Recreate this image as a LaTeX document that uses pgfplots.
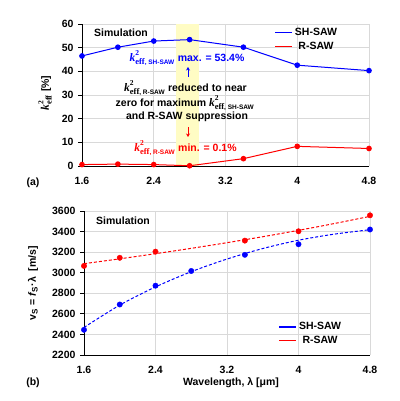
\documentclass[border=0pt]{standalone}
\usepackage{pgfplots}
\pgfplotsset{compat=1.18}
\usetikzlibrary{arrows.meta}
\usepackage{fontspec}
\setmainfont{Liberation Sans}
\newfontfamily\serifk{Liberation Serif}

\definecolor{myblue}{RGB}{0,0,255}
\definecolor{myred}{RGB}{255,0,0}
\definecolor{band}{RGB}{255,252,196}
\definecolor{gridc}{RGB}{217,217,217}

\newcommand{\keff}[1]{$\hbox{\serifk\bfseries\itshape\fontsize{11.5}{12}\selectfont k}^{\hbox{\serifk\bfseries\fontsize{7.5}{8}\selectfont 2}}_{\hbox{\serifk\bfseries\fontsize{8.5}{9}\selectfont eff\rmfamily\fontsize{6.5}{7}\selectfont, #1}}$}
\newcommand{\keffplain}{$\hbox{\serifk\bfseries\itshape\fontsize{11.5}{12}\selectfont k}^{\hbox{\serifk\bfseries\fontsize{7.5}{8}\selectfont 2}}_{\hbox{\serifk\bfseries\fontsize{8.5}{9}\selectfont eff}}$}

\pgfplotsset{
  common/.style={
    scale only axis, anchor=south west,
    xmin=1.6, xmax=4.8,
    xtick={1.6,2.4,3.2,4,4.8}, xticklabels={1.6,2.4,3.2,4,4.8},
    grid=major, grid style={gridc, line width=0.8pt},
    axis x line*=bottom, axis y line*=left,
    axis line style={black, line width=1pt},
    xtick style={draw=none},
    ytick style={black, line width=0.8pt},
    tick align=outside, major tick length=4pt,
    ticklabel style={font=\bfseries\fontsize{10.5}{12}\selectfont},
    /pgf/number format/assume math mode=true,
    /pgf/number format/1000 sep={},
    xticklabel style={yshift=-4pt},
    yticklabel style={xshift=-1pt},
    clip=false,
    legend style={draw=none, fill=none, font=\bfseries\fontsize{10.5}{12}\selectfont, row sep=1pt, anchor=north west},
    legend cell align=center,
  },
}

\begin{document}
\begin{tikzpicture}
\useasboundingbox (0,0) rectangle (399pt,-401pt);

% ---------- (a) ----------
\begin{axis}[common,
  at={(82pt,-166pt)}, width=287pt, height=142pt,
  ymin=0, ymax=60, ytick={0,10,20,30,40,50,60},
  legend style={at={(0.66,1.0)}},
  legend image code/.code={\draw[#1, line width=1.3pt] (0pt,0pt) -- (17pt,0pt);},
]
\addplot[fill=band, draw=none, forget plot] coordinates {(2.65,0) (2.65,60) (2.9,60) (2.9,0)} -- cycle;
\addplot[myblue, line width=1pt, mark=*, mark size=2.3pt] coordinates {
(1.6,46.5) (2.0,50.2) (2.4,52.8) (2.8,53.4) (3.4,50.2) (4.0,42.6) (4.8,40.3)};
\addplot[myred, line width=1pt, mark=*, mark size=2.3pt] coordinates {
(1.6,0.6) (2.0,0.8) (2.4,0.6) (2.8,0.1) (3.4,3.1) (4.0,8.3) (4.8,7.4)};
\legend{SH-SAW, R-SAW}
\end{axis}

% ---------- (b) ----------
\begin{axis}[common,
  at={(84pt,-355pt)}, width=286pt, height=144pt,
  ymin=2200, ymax=3600, ytick={2200,2400,...,3600},
  legend style={at={(0.67,0.255)}},
  legend image code/.code={\draw[#1, solid, line width=1.3pt] (0pt,0pt) -- (17pt,0pt);},
]
\addplot[myblue, line width=1pt, dash pattern=on 3pt off 2pt, smooth] coordinates {
(1.6,2468) (2.0,2685) (2.4,2862) (2.8,3010) (3.2,3133) (3.6,3235) (4.0,3316) (4.4,3375) (4.8,3418)};
\addlegendentry{SH-SAW}
\addplot[myred, line width=1pt, dash pattern=on 3pt off 2pt, smooth] coordinates {
(1.6,3088) (2.0,3135) (2.4,3185) (2.8,3237) (3.2,3292) (3.6,3350) (4.0,3412) (4.4,3478) (4.8,3548)};
\addlegendentry{R-SAW}
\addplot[myblue, only marks, mark=*, mark size=2.7pt, forget plot] coordinates {
(1.6,2445) (2.0,2691) (2.4,2874) (2.8,3017) (3.4,3174) (4.0,3277) (4.8,3420)};
\addplot[myred, only marks, mark=*, mark size=2.7pt, forget plot] coordinates {
(1.6,3066) (2.0,3145) (2.4,3205) (3.4,3312) (4.0,3403) (4.8,3558)};
\end{axis}

% ---------- annotations ----------
\begin{scope}[every node/.style={font=\bfseries\fontsize{10.5}{12}\selectfont, inner sep=0pt}]
\node at (121pt,-33pt) {Simulation};
\node at (123pt,-221pt) {Simulation};
\node[myblue] at (187pt,-58pt) {\keff{SH-SAW} max. = 53.4\%};
\draw[myblue, line width=1pt, -{Stealth[length=3.5pt,width=4pt]}] (188pt,-77pt) -- (188pt,-67pt);
\node at (185.5pt,-88pt) {\keff{R-SAW} reduced to near};
\node at (185pt,-103pt) {zero for maximum \keff{SH-SAW}};
\node at (187pt,-117pt) {and R-SAW suppression};
\draw[myred, line width=1pt, -{Stealth[length=3.5pt,width=4pt]}] (188pt,-127pt) -- (188pt,-137pt);
\node[myred] at (185.5pt,-148pt) {\keff{R-SAW} min. = 0.1\%};
\node[rotate=90] at (45pt,-93pt) {\keffplain\ [\%]};
\node[rotate=90] at (33pt,-283pt) {v$_{\hbox{\bfseries\fontsize{8}{9}\selectfont S}}$ = \textit{f}$_{\hbox{\bfseries\fontsize{8}{9}\selectfont S}}$·λ\ \ [m/s]};
\node at (231pt,-383pt) {Wavelength, λ [μm]};
\node at (33pt,-183pt) {(a)};
\node at (33pt,-383pt) {(b)};
\end{scope}
\end{tikzpicture}
\end{document}
